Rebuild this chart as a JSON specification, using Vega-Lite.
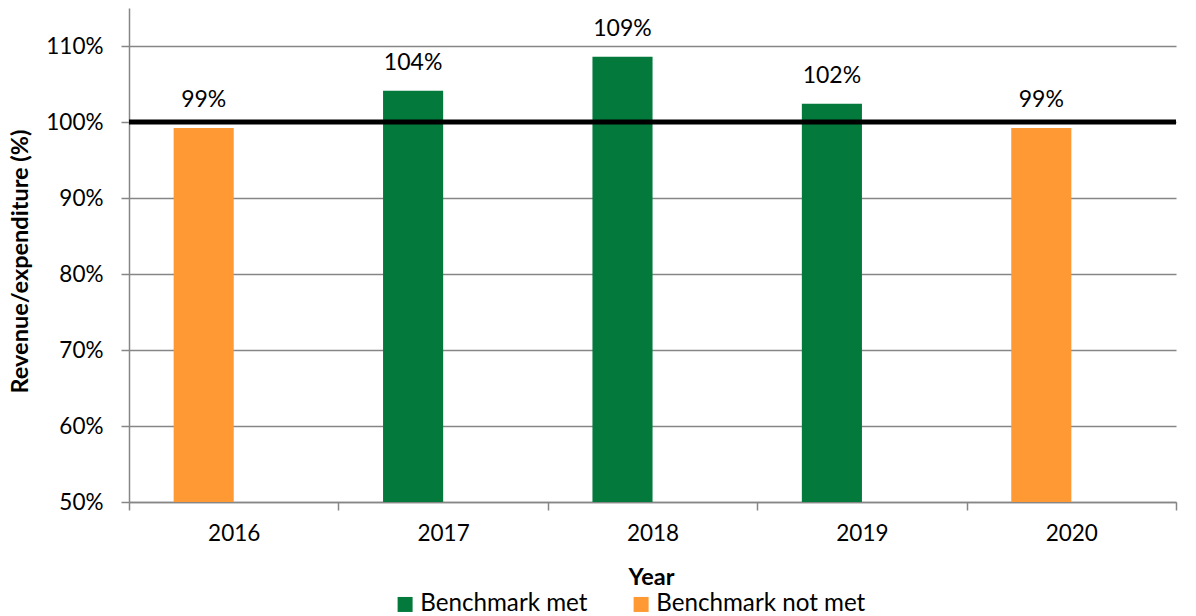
{
  "$schema": "https://vega.github.io/schema/vega-lite/v6.json",
  "width": 1047,
  "height": 494,
  "autosize": {"type": "none"},
  "padding": {"left": 129, "top": 8, "right": 20, "bottom": 114},
  "config": {
    "font": "Lato",
    "view": {"stroke": null},
    "axis": {
      "domainColor": "#868686",
      "domainWidth": 1.5,
      "tickColor": "#868686",
      "tickWidth": 1.5,
      "tickSize": 8,
      "gridColor": "#868686",
      "gridWidth": 1.5,
      "labelColor": "#000000",
      "labelFont": "Lato",
      "labelFontSize": 22.5,
      "titleFont": "Lato",
      "titleFontSize": 23.5,
      "titleFontWeight": "bold",
      "titleColor": "#000000"
    }
  },
  "data": {
    "values": [
      {"year": "2016", "ratio": 0.992, "status": "Benchmark not met"},
      {"year": "2017", "ratio": 1.041, "status": "Benchmark met"},
      {"year": "2018", "ratio": 1.086, "status": "Benchmark met"},
      {"year": "2019", "ratio": 1.024, "status": "Benchmark met"},
      {"year": "2020", "ratio": 0.992, "status": "Benchmark not met"}
    ]
  },
  "layer": [
    {
      "mark": {"type": "bar", "width": {"band": 0.287}, "xOffset": -30, "clip": true},
      "encoding": {
        "x": {
          "field": "year",
          "type": "nominal",
          "scale": {"paddingInner": 0, "paddingOuter": 0},
          "axis": {
            "title": "Year",
            "labelAngle": 0,
            "tickBand": "extent",
            "labelPadding": 12,
            "grid": false,
            "titleX": 522,
            "titleY": 75,
            "titleBaseline": "middle",
            "titleAlign": "center"
          }
        },
        "y": {
          "field": "ratio",
          "type": "quantitative",
          "scale": {"domain": [0.5, 1.15], "nice": false, "zero": false},
          "axis": {
            "title": "Revenue/expenditure (%)",
            "format": ".0%",
            "values": [0.5, 0.6, 0.7, 0.8, 0.9, 1.0, 1.1],
            "grid": true,
            "labelPadding": 18,
            "titleX": -109,
            "titleY": 253,
            "titleAngle": -90,
            "titleAlign": "center",
            "titleBaseline": "middle"
          }
        },
        "color": {
          "field": "status",
          "type": "nominal",
          "scale": {"domain": ["Benchmark met", "Benchmark not met"], "range": ["#037A3B", "#FF9933"]},
          "legend": {
            "title": null,
            "orient": "none",
            "direction": "horizontal",
            "legendX": 264,
            "legendY": 584,
            "symbolType": "square",
            "symbolSize": 225,
            "symbolStrokeWidth": 0,
            "labelFont": "Lato",
            "labelFontSize": 24.2,
            "labelColor": "#000000",
            "labelOffset": 3,
            "columnPadding": 41,
            "labelLimit": 400
          }
        }
      }
    },
    {
      "mark": {"type": "text", "baseline": "alphabetic", "dy": -21, "xOffset": -30, "fontSize": 23, "font": "Lato", "color": "#000000"},
      "encoding": {
        "x": {"field": "year", "type": "nominal"},
        "y": {"field": "ratio", "type": "quantitative"},
        "text": {"field": "ratio", "type": "quantitative", "format": ".0%"}
      }
    },
    {
      "data": {"values": [{"benchmark": 1.0}]},
      "mark": {"type": "rule", "color": "#000000", "strokeWidth": 5},
      "encoding": {
        "y": {"field": "benchmark", "type": "quantitative"}
      }
    }
  ]
}
